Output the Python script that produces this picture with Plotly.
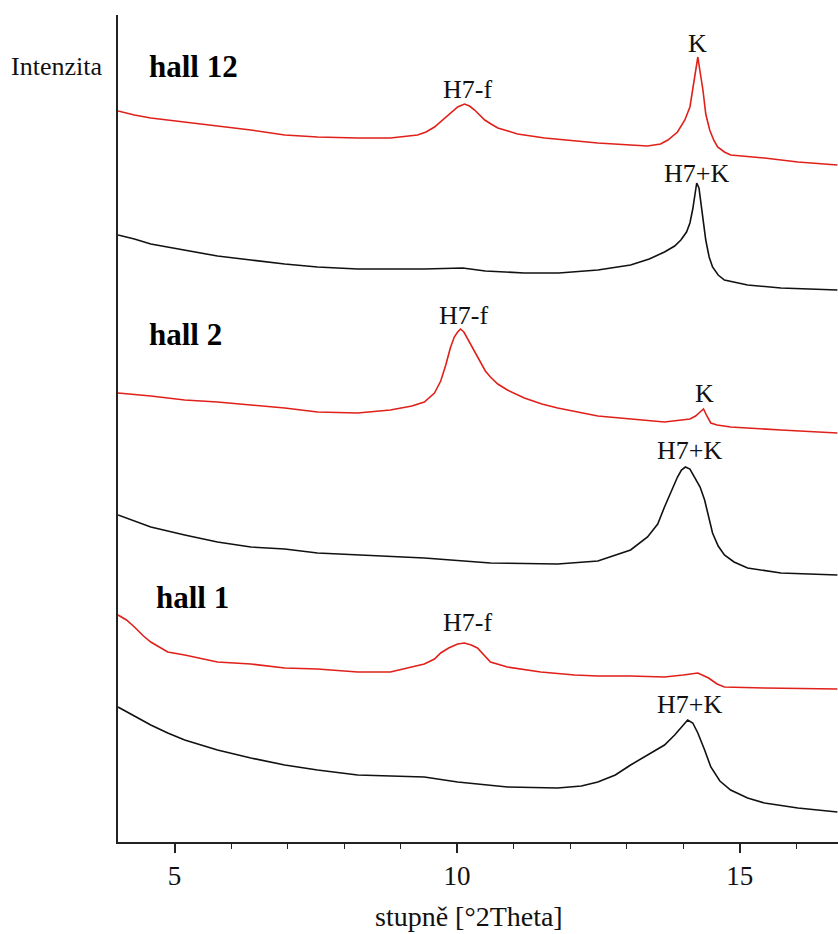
import plotly.graph_objects as go

# ---- data (2theta in degrees, intensity in arbitrary stacked units) ----
h12_red_x = [4.0, 4.29, 4.58, 5.18, 5.76, 6.35, 6.95, 7.53, 8.24, 8.82, 9.30, 9.45, 9.60, 9.72, 9.83,
             9.93, 10.01, 10.13, 10.22, 10.31, 10.40, 10.49, 10.60, 10.72, 10.90, 11.07, 11.55, 12.08,
             12.49, 13.07, 13.37, 13.60, 13.73, 13.90, 14.03, 14.12, 14.17, 14.22, 14.26, 14.30,
             14.35, 14.40, 14.47, 14.54, 14.61, 14.73, 14.84, 15.44, 16.03, 16.73]
h12_red_y = [731, 727, 724, 720, 716, 712, 707, 705, 704, 704, 707, 710, 715, 721, 727,
             732, 735, 738, 736, 732, 727, 722, 718, 714, 711, 708, 704, 701,
             699, 697, 696, 698, 702, 710, 722, 735, 752, 772, 785, 770,
             752, 728, 712, 702, 695, 690, 687, 684, 680, 677]

h12_blk_x = [4.0, 4.29, 4.58, 5.18, 5.76, 6.35, 6.95, 7.53, 8.24, 8.82, 9.42, 10.10, 10.50, 11.19,
             11.80, 12.49, 13.07, 13.40, 13.67, 13.85, 13.96, 14.06, 14.12, 14.17, 14.20, 14.24,
             14.28, 14.31, 14.36, 14.40, 14.46, 14.52, 14.62, 14.73, 15.14, 15.73, 16.73]
h12_blk_y = [607, 603, 598, 592, 586, 582, 578, 575, 573, 573, 573, 574, 571, 569,
             569, 572, 577, 583, 590, 596, 602, 610, 619, 633, 645, 659,
             654, 642, 620, 602, 585, 575, 567, 562, 557, 554, 552]

h2_red_x = [4.0, 4.58, 5.18, 5.76, 6.35, 6.95, 7.53, 8.24, 8.82, 9.20, 9.42, 9.60, 9.71, 9.80, 9.88,
            9.95, 10.01, 10.06, 10.12, 10.18, 10.24, 10.33, 10.42, 10.50, 10.59, 10.72, 10.89, 11.19,
            11.50, 11.78, 12.49, 13.07, 13.67, 14.12, 14.22, 14.30, 14.36, 14.42, 14.49, 14.60,
            14.84, 15.73, 16.73]
h2_red_y = [449, 446, 442, 440, 437, 434, 430, 429, 432, 436, 440, 449, 461, 477, 494,
            505, 510, 513, 510, 504, 498, 489, 479, 471, 465, 458, 452, 444,
            438, 434, 426, 423, 420, 423, 426, 430, 433, 426, 419, 417,
            415, 412, 409]

h2_blk_x = [4.0, 4.29, 4.58, 5.18, 5.76, 6.35, 6.95, 7.53, 8.24, 9.42, 10.59, 11.78, 12.49, 13.07,
            13.37, 13.55, 13.67, 13.80, 13.90, 13.97, 14.04, 14.12, 14.20, 14.30, 14.38, 14.45,
            14.52, 14.62, 14.73, 14.90, 15.14, 15.73, 16.73]
h2_blk_y = [327, 321, 315, 307, 300, 295, 293, 289, 287, 284, 279, 278, 281, 292,
            305, 318, 335, 352, 365, 372, 375, 373, 365, 355, 342, 325,
            309, 296, 287, 280, 274, 269, 267]

h1_red_x = [4.0, 4.15, 4.29, 4.45, 4.58, 4.88, 5.18, 5.76, 6.35, 6.95, 7.53, 8.24, 8.82, 9.42,
            9.60, 9.71, 9.85, 10.01, 10.13, 10.25, 10.36, 10.48, 10.59, 10.89, 11.48, 12.08, 12.49,
            13.07, 13.67, 14.00, 14.26, 14.45, 14.60, 14.73, 15.44, 16.73]
h1_red_y = [227, 222, 215, 206, 200, 190, 187, 180, 178, 174, 173, 170, 170, 178,
            183, 189, 194, 198, 199, 197, 194, 187, 180, 175, 170, 167, 166,
            166, 165, 167, 169, 164, 158, 155, 154, 153]

h1_blk_x = [4.0, 4.29, 4.58, 4.88, 5.18, 5.76, 6.35, 6.95, 7.53, 8.24, 8.82, 9.42, 10.01, 10.89,
            11.78, 12.20, 12.49, 12.80, 13.07, 13.37, 13.67, 13.85, 13.96, 14.08, 14.17, 14.26,
            14.38, 14.49, 14.65, 14.84, 15.14, 15.44, 16.03, 16.73]
h1_blk_y = [135, 126, 117, 109, 102, 92, 84, 77, 72, 67, 66, 65, 60, 55,
            54, 56, 60, 67, 77, 87, 97, 107, 114, 122, 119, 109,
            92, 75, 61, 52, 44, 39, 34, 30]

# peak labels: (text, 2theta, intensity)
peak_text = ["H7-f", "K", "H7+K", "H7-f", "K", "H7+K", "H7-f", "H7+K"]
peak_x = [10.19, 14.26, 14.24, 10.12, 14.38, 14.12, 10.19, 14.12]
peak_y = [753, 799, 669, 527, 449, 392, 220, 138]

sample_text = ["hall 12", "hall 2", "hall 1"]
sample_x = [4.52, 4.52, 4.64]
sample_y = [776, 508, 245]

RED = "#e0201a"
BLK = "#111111"
serif = "Liberation Serif, Times New Roman, serif"

fig = go.Figure()
series = [(h12_red_x, h12_red_y, RED), (h12_blk_x, h12_blk_y, BLK),
          (h2_red_x, h2_red_y, RED), (h2_blk_x, h2_blk_y, BLK),
          (h1_red_x, h1_red_y, RED), (h1_blk_x, h1_blk_y, BLK)]
for xs, ys, c in series:
    fig.add_trace(go.Scatter(x=xs, y=ys, mode="lines",
                             line=dict(color=c, width=1.6),
                             showlegend=False, hoverinfo="skip"))

ann = []
for t, x, y in zip(peak_text, peak_x, peak_y):
    ann.append(dict(x=x, y=y, text=t, showarrow=False, xanchor="center", yanchor="middle",
                    font=dict(family=serif, size=26, color="#111")))
for t, x, y in zip(sample_text, sample_x, sample_y):
    ann.append(dict(x=x, y=y, text="<b>" + t + "</b>", showarrow=False, xanchor="left",
                    yanchor="middle", font=dict(family=serif, size=31, color="#000")))
ann.append(dict(x=-0.152, xref="paper", y=776, text="Intenzita", showarrow=False,
                xanchor="left", yanchor="middle", font=dict(family=serif, size=26, color="#111")))
ann.append(dict(x=0.487, xref="paper", y=-0.09, yref="paper", text="stupně [°2Theta]",
                showarrow=False, xanchor="center", yanchor="middle",
                font=dict(family=serif, size=28, color="#111")))

fig.update_layout(
    width=838, height=934,
    margin=dict(l=118, r=0, t=15, b=92),
    paper_bgcolor="white", plot_bgcolor="white",
    annotations=ann,
    xaxis=dict(range=[4.0, 16.74], showgrid=False, zeroline=False,
               showline=True, linecolor="#222", linewidth=2,
               tickmode="array", tickvals=[5, 10, 15], ticktext=["5", "10", "15"],
               ticks="outside", ticklen=9, tickwidth=1.5, tickcolor="#222",
               minor=dict(tickmode="array", tickvals=[6, 7, 8, 9, 11, 12, 13, 14, 16],
                          ticks="outside", ticklen=5, tickwidth=1.2, tickcolor="#222"),
               tickfont=dict(family=serif, size=27, color="#111")),
    yaxis=dict(range=[0, 827], showgrid=False, zeroline=False, showline=True,
               linecolor="#222", linewidth=2, showticklabels=False, ticks=""),
)

fig.write_html("out.html")
